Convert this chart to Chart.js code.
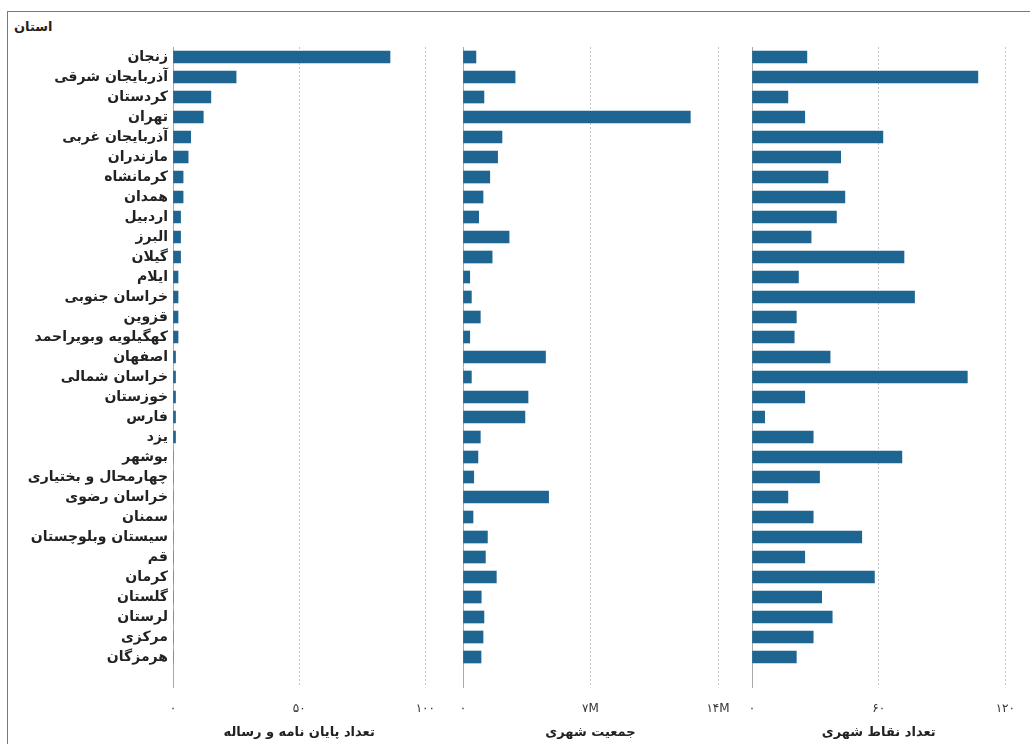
<!DOCTYPE html>
<html lang="fa">
<head>
<meta charset="utf-8">
<title>استان</title>
<script src="https://cdn.jsdelivr.net/npm/chart.js@4.4.1/dist/chart.umd.min.js"></script>
<style>
  html, body { margin: 0; padding: 0; background: #fff; }
  #wrap { position: relative; width: 1030px; height: 744px; overflow: hidden; }
  #frame { position: absolute; left: 7px; top: 11px; right: -2px; bottom: -2px;
           border-top: 1px solid #4f7fc6; border-left: 1px solid #4f7fc6; }
  #header { position: absolute; left: 14px; top: 19px; color: #222;
            font: bold 13px 'DejaVu Sans', sans-serif; }
  canvas { position: absolute; top: 0; }
</style>
</head>
<body>
<div id="wrap">
  <div id="frame"></div>
  <div id="header">استان</div>
  <canvas id="thesisChart" width="450" height="744" style="left:0px"></canvas>
  <canvas id="popChart" width="310" height="744" style="left:440px"></canvas>
  <canvas id="placesChart" width="300" height="744" style="left:730px"></canvas>
</div>
<script>
const provinces = [
  'زنجان', 'آذربایجان شرقی', 'کردستان', 'تهران', 'آذربایجان غربی', 'مازندران',
  'کرمانشاه', 'همدان', 'اردبیل', 'البرز', 'گیلان', 'ایلام', 'خراسان جنوبی',
  'قزوین', 'کهگیلویه وبویراحمد', 'اصفهان', 'خراسان شمالی', 'خوزستان', 'فارس',
  'یزد', 'بوشهر', 'چهارمحال و بختیاری', 'خراسان رضوی', 'سمنان',
  'سیستان وبلوچستان', 'قم', 'کرمان', 'گلستان', 'لرستان', 'مرکزی', 'هرمزگان'
];

// تعداد پایان نامه و رساله
const theses = [86, 25, 15, 12, 7, 6, 4, 4, 3, 3, 3, 2, 2, 2, 2, 1, 1, 1, 1, 1,
  0, 0, 0, 0, 0, 0, 0, 0, 0, 0, 0];

// جمعیت شهری
const urbanPop = [710000, 2860000, 1150000, 12480000, 2140000, 1900000, 1470000,
  1100000, 860000, 2530000, 1600000, 370000, 460000, 950000, 370000, 4530000,
  460000, 3570000, 3400000, 950000, 820000, 590000, 4700000, 550000, 1340000,
  1230000, 1830000, 1000000, 1150000, 1100000, 990000];

// تعداد نقاط شهری
const urbanPlaces = [26, 107, 17, 25, 62, 42, 36, 44, 40, 28, 72, 22, 77, 21, 20,
  37, 102, 25, 6, 29, 71, 32, 17, 29, 52, 25, 58, 33, 38, 29, 21];

const thesisTicks = [0, 50, 100];
const popTicks = [0, 7000000, 14000000];
const placeTicks = [0, 60, 120];

const barColor = '#1f6592';
const fontFamily = "'DejaVu Sans', sans-serif";
const faDigits = '۰۱۲۳۴۵۶۷۸۹';

function toFa(n) {
  return String(n).replace(/\d/g, d => faDigits[d]);
}

function makePanel(id, values, opts) {
  const ctx = document.getElementById(id);
  return new Chart(ctx, {
    type: 'bar',
    data: {
      datasets: [{
        data: values.map((v, i) => ({ x: v, y: i })),
        backgroundColor: barColor,
        barThickness: 12
      }]
    },
    options: {
      indexAxis: 'y',
      responsive: false,
      animation: false,
      layout: { padding: { top: 47, bottom: 0, left: opts.padLeft, right: opts.padRight } },
      plugins: { legend: { display: false }, tooltip: { enabled: false } },
      scales: {
        x: {
          min: 0,
          max: opts.ticks[opts.ticks.length - 1],
          afterBuildTicks: s => { s.ticks = opts.ticks.map(v => ({ value: v })); },
          afterFit: s => { s.height = 57; },
          grid: {
            color: c => (c.tick && c.tick.value === 0) ? 'rgba(0,0,0,0)' : '#c4c4c4',
            drawTicks: false
          },
          border: { display: false, dash: [2, 2] },
          ticks: {
            padding: 15,
            color: '#333',
            maxRotation: 0,
            font: { family: fontFamily, size: 12 },
            callback: opts.fmt
          },
          title: {
            display: true,
            text: opts.title,
            color: '#222',
            font: { family: fontFamily, size: 13, weight: 'bold' },
            padding: { top: 4, bottom: 4 }
          }
        },
        y: {
          type: 'linear',
          reverse: true,
          offset: false,
          bounds: 'data',
          min: -0.5,
          max: 31.5,
          afterBuildTicks: s => {
            s.ticks = provinces.map((p, i) => ({ value: i }));
            s.min = -0.5;
            s.max = 31.5;
          },
          afterFit: s => { s.width = opts.yWidth; },
          grid: { display: false, drawTicks: false },
          border: { display: true, color: '#a9a9a9' },
          ticks: {
            display: opts.showLabels,
            autoSkip: false,
            padding: 5,
            color: '#222',
            font: { family: fontFamily, size: 14, weight: 'bold' },
            callback: v => provinces[v]
          }
        }
      }
    }
  });
}

makePanel('thesisChart', theses, {
  ticks: thesisTicks,
  fmt: v => toFa(v),
  title: 'تعداد پایان نامه و رساله',
  showLabels: true,
  yWidth: 173,
  padLeft: 0,
  padRight: 20
});

makePanel('popChart', urbanPop, {
  ticks: popTicks,
  fmt: v => v === 0 ? '۰' : toFa(v / 1000000) + 'M',
  title: 'جمعیت شهری',
  showLabels: false,
  yWidth: 0,
  padLeft: 23,
  padRight: 32
});

makePanel('placesChart', urbanPlaces, {
  ticks: placeTicks,
  fmt: v => toFa(v),
  title: 'تعداد نقاط شهری',
  showLabels: false,
  yWidth: 0,
  padLeft: 22,
  padRight: 21
});
</script>
</body>
</html>
